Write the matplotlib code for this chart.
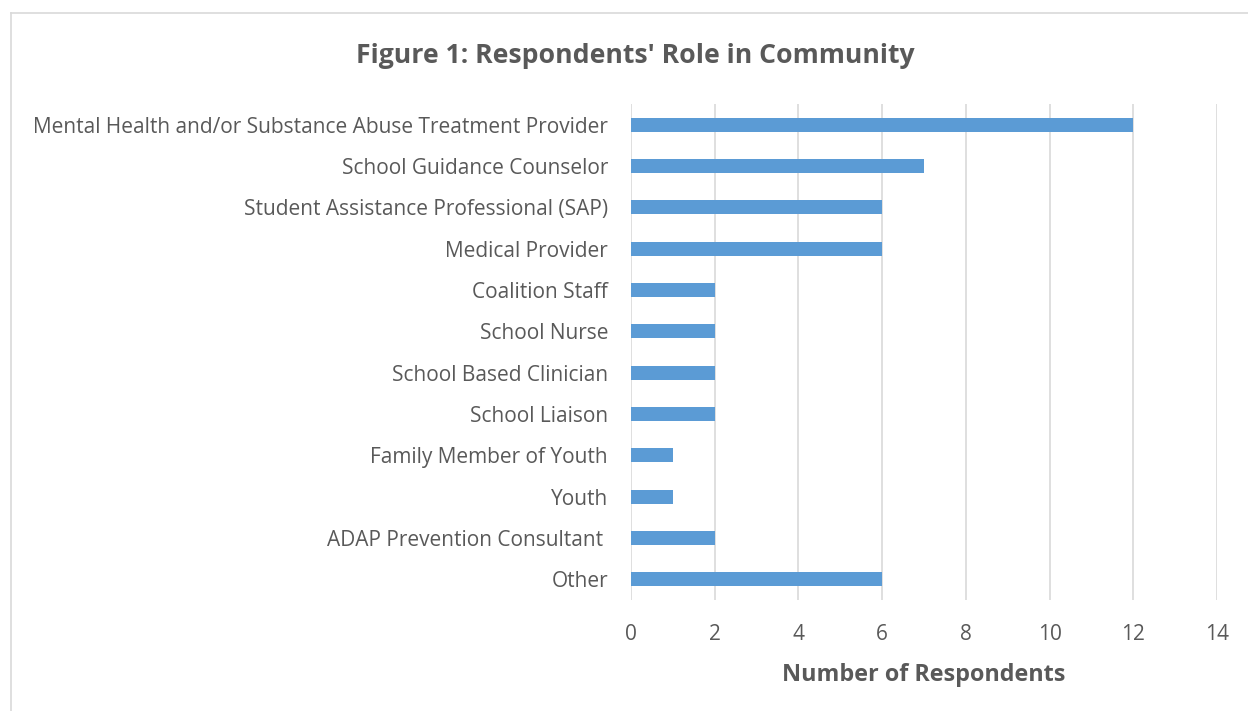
import matplotlib.pyplot as plt
from matplotlib.lines import Line2D

roles = [
    "Mental Health and/or Substance Abuse Treatment Provider",
    "School Guidance Counselor",
    "Student Assistance Professional (SAP)",
    "Medical Provider",
    "Coalition Staff",
    "School Nurse",
    "School Based Clinician",
    "School Liaison",
    "Family Member of Youth",
    "Youth",
    "ADAP Prevention Consultant ",
    "Other",
]
counts = [12, 7, 6, 6, 2, 2, 2, 2, 1, 1, 2, 6]
xticks = [0, 2, 4, 6, 8, 10, 12, 14]

plt.rcParams["font.family"] = ["Open Sans", "DejaVu Sans"]
text_color = "#595959"

fig = plt.figure(figsize=(12.48, 7.11), dpi=100)
ax = fig.add_axes([631 / 1248, 1 - 600 / 711, (1217 - 631) / 1248, 496 / 711])

ypos = list(range(len(roles)))
ax.barh(ypos, counts, height=0.34, color="#5B9BD5", zorder=3)
ax.set_ylim(len(roles) - 0.5, -0.5)
ax.set_xlim(0, 14)
ax.set_yticks(ypos)
ax.set_yticklabels(roles, fontsize=15, color=text_color)
ax.set_xticks(xticks)
ax.set_xticklabels([str(t) for t in xticks], fontsize=15, color=text_color)
ax.tick_params(axis="both", length=0)
ax.tick_params(axis="y", pad=16.5)
ax.tick_params(axis="x", pad=17)
ax.grid(axis="x", color="#D9D9D9", linewidth=1.2, zorder=0)
for s in ax.spines.values():
    s.set_visible(False)

ax.set_xlabel("Number of Respondents", fontsize=16.8, fontweight="bold",
              color=text_color, labelpad=13)

fig.text(635 / 1248, 1 - 56 / 711, "Figure 1: Respondents' Role in Community",
         ha="center", va="center", fontsize=19.2, fontweight="bold", color=text_color)

# chart area border (top and left visible)
fig.add_artist(Line2D([11 / 1248, 11 / 1248], [0, 1 - 13 / 711],
                      transform=fig.transFigure, color="#D9D9D9", linewidth=1.2))
fig.add_artist(Line2D([11 / 1248, 1], [1 - 13 / 711, 1 - 13 / 711],
                      transform=fig.transFigure, color="#D9D9D9", linewidth=1.2))

fig.savefig("out.png", dpi=100)
